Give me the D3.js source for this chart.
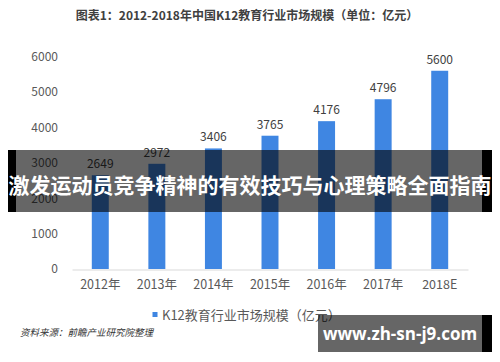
<!DOCTYPE html>
<html>
<head>
<meta charset="utf-8">
<script src="https://cdn.jsdelivr.net/npm/d3@7"></script>
<style>
  body { margin: 0; background: #fff; }
  svg { display: block; font-family: "Noto Sans CJK SC", "Open Sans", sans-serif; }
</style>
</head>
<body>
<script>
// Chart data
const years = ["2012年", "2013年", "2014年", "2015年", "2016年", "2017年", "2018E"];
const marketSize = [2649, 2972, 3406, 3765, 4176, 4796, 5600];
const yTicks = [0, 1000, 2000, 3000, 4000, 5000, 6000];

const w = 500;
const h = 362;

const svg = d3.select("body")
  .append("svg")
  .attr("width", w)
  .attr("height", h);

svg.append("rect").attr("width", w).attr("height", h).attr("fill", "#fff");

// Title
svg.append("text")
  .attr("x", 247)
  .attr("y", 20)
  .attr("text-anchor", "middle")
  .attr("font-size", 12)
  .attr("font-weight", "bold")
  .attr("fill", "#404040")
  .text("图表1：2012-2018年中国K12教育行业市场规模（单位：亿元）");

// Scales
const xScale = d3.scaleBand()
  .domain(years)
  .range([72, 468])
  .paddingInner(0.7)
  .paddingOuter(0.35);

const yScale = d3.scaleLinear()
  .domain([0, 6000])
  .range([269, 56.6]);

// Y axis labels
const yAxis = svg.append("g")
  .attr("transform", "translate(58,0)")
  .call(d3.axisLeft(yScale).tickValues(yTicks).tickFormat(d3.format("d")).tickSize(0).tickPadding(0));
yAxis.select(".domain").remove();
yAxis.selectAll("text")
  .attr("font-size", 12)
  .attr("font-family", "'Noto Sans CJK SC', sans-serif")
  .attr("fill", "#595959");

// Bars
svg.selectAll("rect.bar")
  .data(marketSize)
  .enter()
  .append("rect")
  .attr("class", "bar")
  .attr("x", (d, i) => xScale(years[i]))
  .attr("y", d => yScale(d))
  .attr("width", xScale.bandwidth())
  .attr("height", d => yScale(0) - yScale(d))
  .attr("fill", "#3f86e2");

// Value labels
svg.selectAll("text.val")
  .data(marketSize)
  .enter()
  .append("text")
  .attr("class", "val")
  .attr("x", (d, i) => xScale(years[i]) + xScale.bandwidth() / 2)
  .attr("y", d => yScale(d) - 7)
  .attr("text-anchor", "middle")
  .attr("font-size", 12)
  .attr("fill", "#404040")
  .text(d => d);

// X axis
const xAxis = svg.append("g")
  .attr("transform", "translate(0,269.5)")
  .call(d3.axisBottom(xScale).tickSize(0).tickPadding(11));
xAxis.select(".domain").attr("stroke", "#d9d9d9");
xAxis.selectAll("text")
  .attr("font-size", 12.5)
  .attr("font-family", "'Noto Sans CJK SC', sans-serif")
  .attr("fill", "#595959");

// Legend
svg.append("rect")
  .attr("x", 152.5).attr("y", 312)
  .attr("width", 5).attr("height", 5)
  .attr("fill", "#3f86e2");
svg.append("text")
  .attr("x", 162)
  .attr("y", 320)
  .attr("font-size", 13)
  .attr("fill", "#595959")
  .text("K12教育行业市场规模（亿元）");

// Source
svg.append("text")
  .attr("x", 20)
  .attr("y", 336)
  .attr("font-size", 9.5)
  .attr("font-style", "italic")
  .attr("fill", "#333")
  .text("资料来源：前瞻产业研究院整理");

// Overlay banner
svg.append("rect").attr("x", 16).attr("y", 150).attr("width", 466).attr("height", 62)
  .attr("fill", "rgba(0,0,0,0.6)");
svg.append("rect").attr("x", 8).attr("y", 150).attr("width", 8).attr("height", 62).attr("fill", "#000");
svg.append("rect").attr("x", 482).attr("y", 150).attr("width", 10).attr("height", 62).attr("fill", "#000");
svg.append("text")
  .attr("x", 250)
  .attr("y", 193)
  .attr("text-anchor", "middle")
  .attr("font-size", 21)
  .attr("font-weight", "bold")
  .attr("fill", "#fff")
  .text("激发运动员竞争精神的有效技巧与心理策略全面指南");

// Site watermark box
svg.append("rect").attr("x", 318).attr("y", 315).attr("width", 164).attr("height", 37)
  .attr("fill", "rgba(0,0,0,0.6)");
svg.append("rect").attr("x", 482).attr("y", 315).attr("width", 10).attr("height", 37).attr("fill", "#000");
svg.append("text")
  .attr("x", 400)
  .attr("y", 340)
  .attr("text-anchor", "middle")
  .attr("font-size", 17)
  .attr("font-weight", "bold")
  .attr("font-family", "'Open Sans', sans-serif")
  .attr("fill", "#fff")
  .text("www.zh-sn-j9.com");
</script>
</body>
</html>
